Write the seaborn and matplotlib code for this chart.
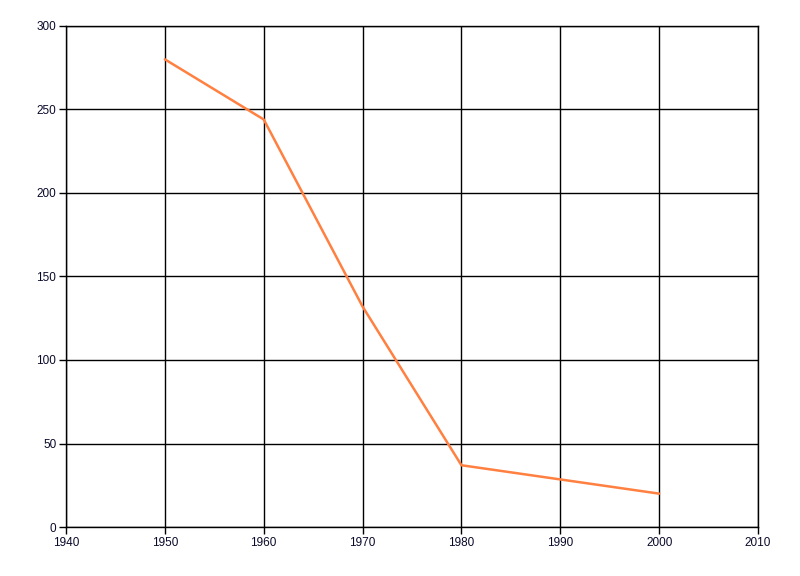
import pandas as pd
import matplotlib
matplotlib.use("Agg")
import matplotlib.pyplot as plt
import seaborn as sns

years = [1950, 1960, 1970, 1980, 1990, 2000]
values = [280, 244, 132, 37, 28.5, 20]
x_ticks = [1940, 1950, 1960, 1970, 1980, 1990, 2000, 2010]
y_ticks = [0, 50, 100, 150, 200, 250, 300]

df = pd.DataFrame({"Year": years, "Value": values})

sns.set_style("white")
plt.rcParams['font.family'] = ['Liberation Sans', 'DejaVu Sans']

fig = plt.figure(figsize=(8, 5.76), dpi=100)
ax = fig.add_axes([0.0825, 0.085, 0.865, 0.87])

sns.lineplot(x="Year", y="Value", data=df, ax=ax, color="#FF8040", linewidth=1.8)

ax.set_xlim(1940, 2010)
ax.set_ylim(0, 300)
ax.set_xticks(x_ticks)
ax.set_yticks(y_ticks)
ax.grid(True, color="black", linewidth=1)
ax.set_axisbelow(True)
for s in ax.spines.values():
    s.set_color("black")
    s.set_linewidth(1)
ax.tick_params(axis="both", direction="out", length=5, width=1, color="black",
               labelsize=8.5, labelcolor="#0a0a2a", pad=2, left=True, bottom=True)
ax.set_xlabel("")
ax.set_ylabel("")

fig.savefig("out.png", dpi=100)
